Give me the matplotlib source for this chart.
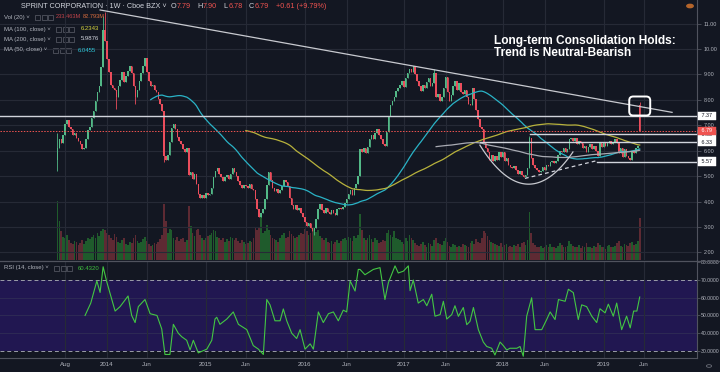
import numpy as np
import pandas as pd
import matplotlib
matplotlib.use("Agg")
import matplotlib.pyplot as plt
from matplotlib.patches import FancyBboxPatch, Rectangle, Circle
from matplotlib.lines import Line2D

plt.rcParams['font.family'] = ['Liberation Sans', 'DejaVu Sans']

#%% weekly data, first bar = week of 2013-07-08
start_week = '2013-07-08'
closes = [
    6.10, 6.45, 6.30, 6.62, 7.05, 7.20, 6.95, 6.85, 6.60, 6.70,
    6.50, 6.40, 6.25, 6.05, 6.10, 6.45, 6.80, 6.95, 7.30, 7.55,
    7.95, 8.30, 8.55, 9.30, 10.75, 10.30, 9.60, 9.10, 8.60, 8.45,
    8.40, 8.10, 8.55, 8.80, 9.10, 8.70, 8.95, 9.15, 9.35, 9.05,
    8.55, 8.10, 8.40, 8.75, 9.05, 9.35, 9.65, 9.10, 8.75, 8.55,
    8.60, 8.40, 8.30, 8.05, 7.85, 7.55, 5.80, 5.65, 5.85, 6.35,
    6.90, 7.05, 6.85, 6.55, 6.40, 6.25, 6.05, 5.95, 6.10, 5.05,
    5.15, 4.90, 5.10, 4.70, 4.30, 4.15, 4.25, 4.15, 4.35, 4.25,
    4.30, 4.55, 4.95, 5.20, 5.30, 5.10, 4.95, 4.80, 4.95, 5.05,
    4.90, 5.10, 5.30, 5.15, 5.00, 4.80, 4.65, 4.55, 4.65, 4.60,
    4.55, 4.70, 4.50, 4.45, 4.10, 3.70, 3.40, 3.55, 3.70, 4.10,
    4.65, 5.15, 4.85, 4.55, 4.40, 4.50, 4.35, 4.45, 4.60, 4.85,
    4.75, 4.60, 4.15, 3.85, 3.70, 3.85, 3.65, 3.75, 3.55, 3.40,
    3.20, 3.05, 3.15, 2.95, 2.85, 2.95, 3.30, 3.70, 3.90, 3.65,
    3.55, 3.75, 3.60, 3.50, 3.65, 3.55, 3.45, 3.70, 3.75, 3.70,
    3.80, 3.95, 4.10, 4.30, 4.45, 4.25, 4.55, 4.70, 5.00, 6.05,
    5.95, 6.10, 5.90, 6.15, 6.45, 6.60, 6.45, 6.70, 6.85, 6.60,
    6.45, 6.25, 6.20, 6.75, 7.35, 7.80, 7.95, 8.10, 8.35, 8.45,
    8.60, 8.75, 8.50, 8.85, 9.05, 9.20, 9.10, 9.35, 9.00, 8.75,
    8.55, 8.35, 8.60, 8.45, 8.70, 8.85, 8.55, 8.65, 9.05, 8.10,
    8.25, 7.95, 8.10, 8.45, 8.90, 8.30, 7.95, 8.20, 8.55, 8.75,
    8.40, 8.65, 8.30, 8.25, 8.40, 8.10, 7.85, 7.80, 8.45, 8.05,
    7.60, 7.25, 6.95, 6.85, 6.30, 6.10, 5.95, 5.65, 5.85, 5.60,
    5.80, 5.65, 5.95, 5.75, 5.95, 5.60, 5.70, 5.45, 5.35, 5.30,
    5.40, 5.25, 5.10, 5.20, 5.05, 4.95, 5.05, 5.30, 6.50, 5.70,
    5.45, 5.30, 5.25, 5.15, 5.20, 5.35, 5.25, 5.45, 5.40, 5.55,
    5.60, 5.50, 5.60, 5.85, 6.00, 5.95, 6.10, 5.95, 6.05, 6.45,
    6.50, 6.40, 6.50, 6.25, 6.40, 6.30, 6.10, 6.20, 5.95, 6.15,
    6.25, 6.05, 6.20, 6.00, 5.80, 6.30, 6.15, 6.35, 6.20, 6.30,
    6.40, 6.25, 6.35, 6.45, 6.30, 5.90, 6.10, 5.75, 6.05, 5.80,
    5.70, 5.65, 6.00, 5.90, 6.10, 6.18, 6.79,
]
first_open = 5.65
last_open = 7.79          # gap up on the last week (O7.79 H7.90 L6.78 C6.79)
wick_high = {0: 6.70, 24: 11.30, 25: 11.45, 198: 9.20, 248: 6.58, 306: 7.90}
wick_low = {0: 5.20, 31: 7.65, 41: 7.85, 56: 5.55, 135: 2.68, 306: 6.78}

volume = [  # millions of shares
    330, 215, 160, 130, 120, 140, 110, 95, 90, 105,
    100, 85, 95, 110, 90, 105, 120, 115, 130, 140,
    125, 150, 135, 160, 175, 170, 150, 140, 125, 110,
    145, 130, 100, 95, 110, 120, 90, 85, 100, 95,
    125, 140, 105, 95, 100, 115, 130, 105, 90, 80,
    85, 95, 90, 100, 115, 140, 310, 220, 150, 175,
    165, 120, 110, 130, 105, 115, 125, 100, 110, 300,
    190, 150, 135, 165, 175, 140, 120, 110, 125, 135,
    140, 150, 170, 160, 130, 125, 110, 120, 100, 115,
    105, 130, 120, 110, 125, 105, 95, 110, 100, 90,
    95, 105, 100, 120, 185, 165, 180, 240, 150, 160,
    195, 170, 140, 120, 115, 110, 100, 125, 140, 150,
    120, 130, 160, 145, 135, 120, 130, 140, 150, 145,
    175, 160, 140, 150, 165, 180, 155, 170, 135, 120,
    110, 125, 100, 95, 105, 90, 100, 110, 95, 105,
    115, 125, 110, 130, 120, 105, 135, 125, 140, 255,
    165, 120, 110, 125, 140, 115, 100, 120, 110, 95,
    100, 110, 105, 150, 165, 140, 130, 160, 120, 115,
    110, 100, 90, 120, 105, 140, 125, 110, 95, 85,
    80, 90, 100, 85, 75, 95, 90, 80, 110, 125,
    95, 90, 85, 105, 120, 100, 80, 75, 90, 85,
    75, 80, 70, 90, 85, 80, 75, 95, 105, 90,
    115, 100, 95, 120, 160, 150, 135, 110, 100, 95,
    90, 85, 80, 95, 75, 85, 90, 70, 80, 75,
    85, 80, 90, 75, 95, 100, 85, 110, 265, 150,
    95, 85, 70, 75, 80, 65, 70, 85, 75, 90,
    70, 75, 65, 80, 95, 85, 70, 75, 80, 105,
    90, 80, 75, 70, 85, 65, 80, 75, 95, 70,
    75, 65, 80, 70, 95, 85, 70, 75, 60, 80,
    85, 70, 75, 80, 95, 105, 80, 75, 90, 85,
    80, 95, 100, 85, 90, 105, 233,
]

# RSI(14) as drawn in the lower pane: (week index, value)
rsi_weeks = [
    14.5, 17.5, 20.7, 22.4, 24.0, 25.9, 30.3, 32.9, 37.1, 39.0, 40.8, 42.5, 46.0, 48.7,
    52.3, 54.8, 56.5, 59.1, 60.9, 63.5, 65.3, 67.9, 69.7, 71.4, 74.0, 78.5, 81.1, 82.8,
    83.7, 85.4, 89.0, 92.4, 95.1, 99.5, 102.9, 105.6, 108.2, 110.0, 111.7, 114.3, 117.0,
    118.7, 120.5, 123.1, 125.7, 127.5, 130.1, 132.8, 134.5, 137.1, 139.7, 142.4, 145.0,
    147.6, 150.2, 152.0, 153.8, 156.4, 158.1, 159.0, 161.6, 166.0, 169.5, 172.1, 173.9,
    177.4, 179.1, 181.8, 184.4, 185.3, 187.0, 189.6, 192.3, 194.1, 196.7, 198.4, 201.1,
    202.8, 204.6, 207.2, 208.9, 210.7, 213.3, 215.1, 216.8, 218.6, 221.2, 223.8, 225.6,
    228.2, 229.9, 232.6, 234.3, 236.1, 237.8, 241.4, 243.1, 244.8, 246.6, 249.2, 251.0,
    254.5, 257.1, 258.9, 261.5, 263.3, 266.8, 268.5, 271.1, 273.7, 275.5, 278.1, 280.8,
    283.4, 285.1, 287.8, 289.5, 292.1, 293.9, 296.5, 299.1, 301.0, 302.8, 304.5, 306.0,
]
rsi_values = [
    50.0, 57.0, 69.5, 63.0, 77.5, 69.0, 52.5, 55.0, 61.0, 50.0, 46.0, 55.0, 59.0, 51.0,
    50.0, 42.4, 28.0, 28.0, 45.0, 40.0, 38.0, 36.0, 30.6, 36.0, 28.9, 31.0, 36.0, 48.0,
    49.0, 45.0, 48.0, 52.0, 45.0, 42.0, 33.0, 31.0, 28.0, 59.0, 56.0, 47.0, 47.0,
    53.7, 47.0, 40.0, 37.0, 42.0, 31.0, 34.0, 31.0, 52.0, 46.0, 51.0, 52.0,
    47.0, 53.0, 52.0, 69.5, 63.8, 76.0, 76.0, 73.0, 76.0, 77.0, 59.0, 68.5,
    78.0, 74.0, 75.0, 78.0, 64.0, 70.0, 57.0, 59.0, 55.5, 62.0, 49.6, 50.5,
    58.0, 48.0, 50.5, 55.5, 49.5, 54.5, 44.8, 46.7, 54.5, 42.0, 35.0, 32.5,
    31.5, 27.7, 35.0, 33.0, 30.5, 31.5, 31.5, 32.5, 27.0, 49.6, 60.0, 42.0,
    42.0, 47.7, 52.0, 47.7, 59.0, 58.0, 64.8, 62.9, 47.7, 56.0, 55.0, 49.6,
    46.0, 53.8, 51.5, 56.4, 49.6, 57.0, 42.0, 49.6, 43.0, 52.5, 52.5, 60.43,
]

tick_dates = ['2013-08-05', '2014-01-06', '2014-06-02', '2015-01-05', '2015-06-01',
              '2016-01-04', '2016-06-06', '2017-01-02', '2017-06-05', '2018-01-01',
              '2018-06-04', '2019-01-07', '2019-06-03']
tick_labels = ['Aug', '2014', 'Jun', '2015', 'Jun', '2016', 'Jun', '2017', 'Jun',
               '2018', 'Jun', '2019', 'Jun']

# drawn levels / trendlines (week index, price)
level_prices = [7.37, 6.65, 6.33, 5.57]
level_starts = [-31, 248.4, 222.0, 283.5]
trend_idx = [22.4, 323.0]
trend_px = [11.54, 7.51]
support_idx = [245.7, 283.5]
support_px = [4.91, 5.61]
cup_idx = [222.0, 249.4, 270.9]
cup_px = [6.22, 4.69, 5.95]

#%% colours
bg = '#131722'
grid_c = '#262a36'
txt_c = '#b2b5be'
up_c, dn_c = '#53b987', '#eb4d5c'
vol_up, vol_dn = '#1f5b2c', '#5e2a33'

#%% derived series
c = np.array(closes)
n = len(c)
idx = np.arange(n)
o = np.r_[first_open, c[:-1]]
o[-1] = last_open
hi = np.maximum(o, c)
lo = np.minimum(o, c)
for k, v in wick_high.items():
    hi[k] = v
for k, v in wick_low.items():
    lo[k] = v
up = c >= o

s = pd.Series(c)
ma50 = s.rolling(50).mean()
ma100 = s.rolling(100).mean()
ma200 = s.rolling(200).mean()

start = pd.Timestamp(start_week)
tick_pos = [(pd.Timestamp(t) - start).days / 7.0 for t in tick_dates]

#%% figure
W, H = 720, 372
fig = plt.figure(figsize=(W / 100, H / 100), dpi=100)
fig.patch.set_facecolor(bg)

def rect(x0, y0, x1, y1):
    return [x0 / W, 1 - y1 / H, (x1 - x0) / W, (y1 - y0) / H]

def px(x, y):
    return (x / W, 1 - y / H)

xlim = (-30.2, 336.1)

ax = fig.add_axes(rect(0, 0, 697, 260))
axv = ax.twinx()
ax.set_zorder(axv.get_zorder() + 1)
ax.patch.set_visible(False)
axv.patch.set_visible(True)
axv.patch.set_facecolor(bg)

# volume
vcols = [vol_up if u else vol_dn for u in up]
axv.bar(idx, volume, width=0.9, color=vcols, linewidth=0)
axv.set_ylim(0, 1450)
axv.set_yticks([])
for sp in axv.spines.values():
    sp.set_visible(False)

# price pane
ax.set_xlim(*xlim)
ax.set_ylim(1.697, 11.933)
ax.set_xticks(tick_pos)
ax.tick_params(axis='x', labelbottom=False, length=0)
ax.grid(True, color=grid_c, lw=0.8, zorder=0)
ax.yaxis.tick_right()
ax.set_yticks(range(2, 12))
ax.set_yticklabels(['%.2f' % v for v in range(2, 12)])
ax.tick_params(axis='y', colors='#50535e', labelcolor=txt_c, labelsize=3.9,
               length=3, width=0.6, pad=2)
for k, sp in ax.spines.items():
    sp.set_visible(k == 'right')
ax.spines['right'].set_color('#50535e')
ax.spines['right'].set_linewidth(0.8)

ccols = [up_c if u else dn_c for u in up]
ax.vlines(idx, lo, hi, colors=ccols, lw=0.6, zorder=3)
ax.bar(idx, np.maximum(np.abs(c - o), 0.02), bottom=np.minimum(o, c), width=0.8,
       color=ccols, linewidth=0, zorder=3)

ax.plot(idx, ma50, color='#2ab3c6', lw=0.9, zorder=4)
ax.plot(idx, ma100, color='#b8b23c', lw=0.9, zorder=4)
ax.plot(idx, ma200, color='#a9abb3', lw=0.9, zorder=4)

# drawings
ax.plot(trend_idx, trend_px, color='#c8cad0', lw=0.9, zorder=5)
for p, x0 in zip(level_prices, level_starts):
    ax.plot([x0, xlim[1]], [p, p], color='#d1d4dc', lw=1.0, zorder=5)
ax.axhline(c[-1], color='#ef5350', lw=0.7, ls=(0, (1.5, 1.5)), zorder=5)
ax.plot(support_idx, support_px, color='#d1d4dc', lw=0.9, ls=(0, (3, 2.5)), zorder=5)
cf = np.polyfit(cup_idx, cup_px, 2)
cx = np.linspace(cup_idx[0], cup_idx[-1], 80)
ax.plot(cx, np.polyval(cf, cx), color='#c8cad0', lw=0.9, zorder=5)

# highlight box round the last candle, sized in pixels
bx, by = ax.transData.transform((n - 1, (wick_high[n - 1] + 7.62) / 2))
ax.add_patch(FancyBboxPatch((bx - 10.5, by - 9.5), 21, 19,
                            boxstyle='round,pad=0,rounding_size=4',
                            transform=None, fill=False, ec='white', lw=1.4, zorder=6))

# right-hand price labels
ytr = ax.get_yaxis_transform()
for p in level_prices:
    ax.text(1.004, p, ' %.2f  ' % p, transform=ytr, fontsize=3.9, color='#131722',
            va='center', ha='left', zorder=7, clip_on=False,
            bbox=dict(boxstyle='square,pad=0.3', fc='white', ec='white', lw=0.3))
ax.text(1.004, c[-1], ' %.2f  ' % c[-1], transform=ytr, fontsize=3.9, color='white',
        va='center', ha='left', zorder=8, clip_on=False,
        bbox=dict(boxstyle='square,pad=0.3', fc='#ef5350', ec='#ef5350', lw=0.3))

ax.text(494 / 697, 1 - 47 / 260, 'Long-term Consolidation Holds:\nTrend is Neutral-Bearish',
        transform=ax.transAxes, color='white', fontsize=8.6, fontweight='bold',
        va='center', ha='left', linespacing=1.1, zorder=8)

#%% RSI pane
axr = fig.add_axes(rect(0, 261.8, 697, 358), sharex=ax)
axr.set_facecolor(bg)
axr.axhspan(30, 70, color='#211751', lw=0, zorder=0)
axr.plot(rsi_weeks, rsi_values, color='#43c743', lw=0.8, zorder=3)
axr.set_ylim(26.0, 80.3)
axr.set_xlim(*xlim)
for v in (40, 50, 60):
    axr.axhline(v, color='#2e2a55', lw=0.7, zorder=1)
for v in (30, 70):
    axr.axhline(v, color='#9b9ea8', lw=0.7, ls=(0, (4, 3)), zorder=2)
axr.grid(True, axis='x', color=grid_c, lw=0.8, zorder=1)
axr.set_xticks(tick_pos)
axr.set_xticklabels(tick_labels)
axr.yaxis.tick_right()
axr.set_yticks([30, 40, 50, 60, 70, 80])
axr.set_yticklabels(['%.4f' % v for v in (30, 40, 50, 60, 70, 80)])
axr.tick_params(axis='y', colors='#50535e', labelcolor=txt_c, labelsize=3.7,
                length=2, width=0.6, pad=1)
axr.tick_params(axis='x', colors=txt_c, labelsize=4.4, length=0, pad=3)
for k, sp in axr.spines.items():
    sp.set_visible(k in ('right', 'bottom'))
    sp.set_color('#50535e')
    sp.set_linewidth(0.8)

fig.add_artist(Line2D([0, 1], [1 - 261 / H] * 2, color='#50535e', lw=0.9))

#%% legend / header texts
def ftext(x, y, s, color=txt_c, size=4.3, **kw):
    fig.text(x / W, 1 - y / H, s, color=color, fontsize=size, va='center', ha='left', **kw)

def icons(x, y):
    for k in range(3):
        fig.add_artist(Rectangle(px(x + 6.5 * k, y + 2.5), 5 / W, 5 / H, fill=False,
                                 ec='#5d606b', lw=0.5, transform=fig.transFigure))

ftext(21, 6, 'SPRINT CORPORATION \u00b7 1W \u00b7 Cboe BZX \u02c5', color='#d1d4dc', size=5.2)
for x, lab, val in [(171, 'O', '7.79'), (197, 'H', '7.90'), (223, 'L', '6.78'),
                    (249, 'C', '6.79')]:
    ftext(x, 6, lab, color='#d1d4dc', size=5.2)
    ftext(x + 6, 6, val, color='#ef5350', size=5.2)
ftext(276, 6, '+0.61 (+9.79%)', color='#ef5350', size=5.2)
ftext(4, 17, 'Vol (20) \u02c5')
icons(35, 17)
ftext(56, 17, '233.463M', color='#c2444b', size=4.1)
ftext(82.5, 17, '82.793M', color='#e0703f', size=4.1)
ftext(4, 29, 'MA (100, close) \u02c5')
icons(56, 29)
ftext(81, 29, '6.2343', color='#d6d43e')
ftext(4, 39, 'MA (200, close) \u02c5')
icons(56, 39)
ftext(81, 39, '5.9876', color='#d1d4dc')
ftext(4, 50, 'MA (50, close) \u02c5')
icons(53, 50)
ftext(78, 50, '6.0455', color='#2ec6d8')
ftext(4, 268, 'RSI (14, close) \u02c5')
icons(54, 268)
ftext(78, 268, '60.4320', color='#3fbf3f')

fig.add_artist(Circle(px(690, 6), 3.2 / W, color='#b5652b', transform=fig.transFigure))
fig.add_artist(Circle(px(709, 366), 2.6 / W, fill=False, ec='#6a6d78', lw=0.6,
                      transform=fig.transFigure))

fig.savefig('out.png', dpi=100, facecolor=bg)
